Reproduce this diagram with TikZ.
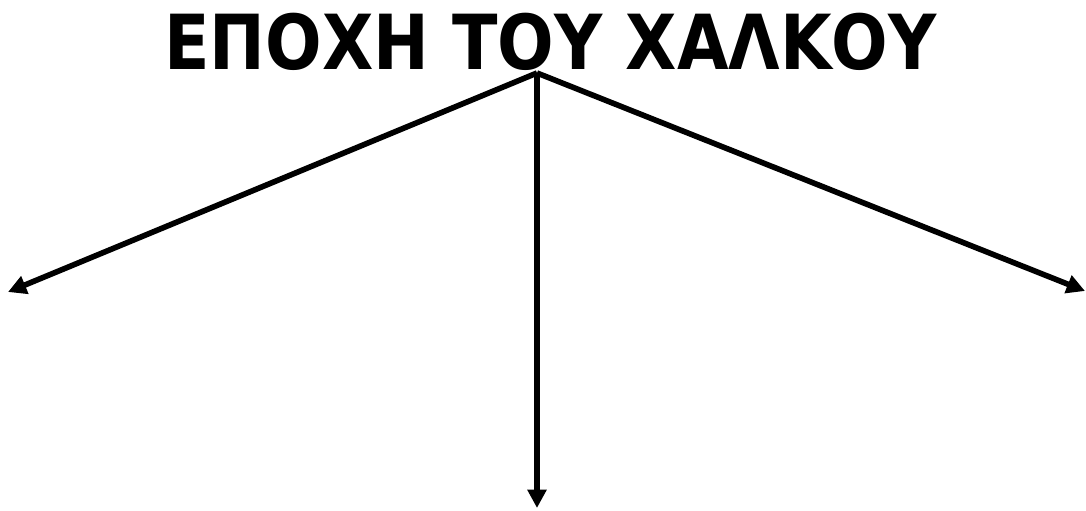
\documentclass[tikz,border=0pt]{standalone}
\usepackage{fontspec}
\setmainfont{DejaVu Sans}
\usetikzlibrary{arrows.meta,positioning}

\tikzset{
  branch/.style={line width=4pt,-{Triangle[length=13pt,width=13pt]}},
  heading/.style={font=\fontsize{54}{64}\selectfont\bfseries,inner sep=0pt,anchor=base}
}

\begin{document}
\begin{tikzpicture}[x=0.025cm,y=-0.025cm]
\useasboundingbox (0,0) rectangle (1086,511);

%Title
\node[heading] (title) at (550.5,70) {\scalebox{0.877}[1]{ΕΠΟΧΗ ΤΟΥ ΧΑΛΚΟΥ}};

%Branches
\coordinate (hub) at (537,73);
\coordinate (left) at (8,292);
\coordinate (right) at (1085,291);
\coordinate (down) at (537,508);

\draw[branch] (hub) -- (left);
\draw[branch] (hub) -- (right);
\draw[branch] (hub) -- (down);
\end{tikzpicture}
\end{document}
